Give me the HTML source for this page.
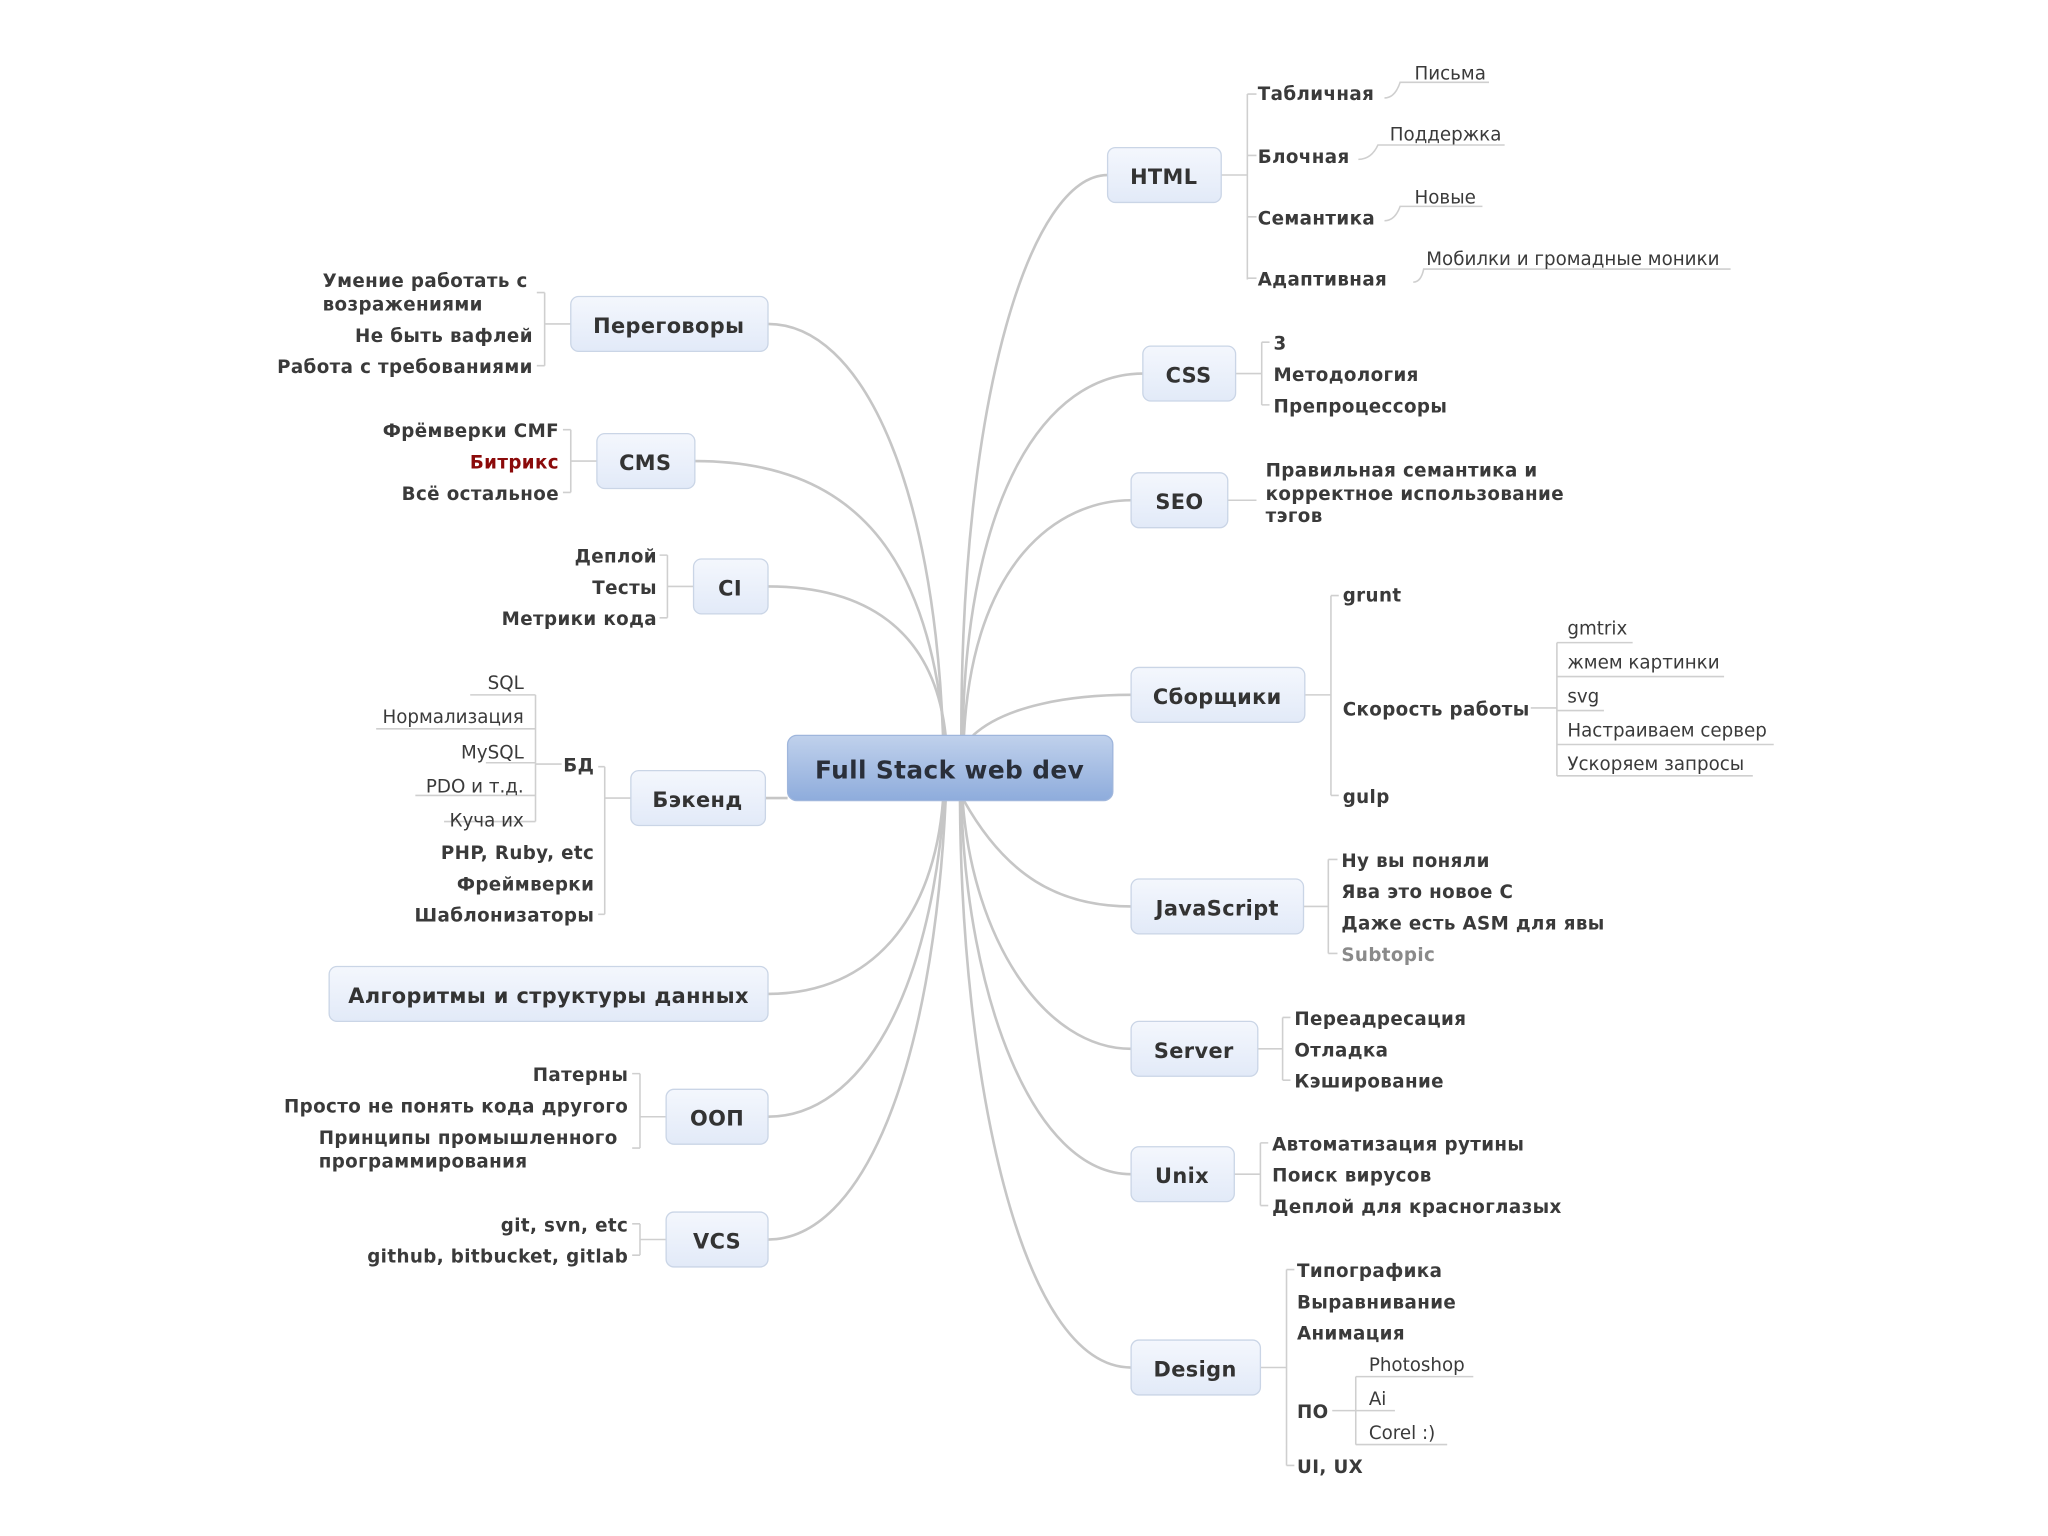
<!DOCTYPE html>
<html><head><meta charset="utf-8"><style>
html,body{margin:0;padding:0;background:#fff;}
svg{display:block;}
text{font-family:"DejaVu Sans","Liberation Sans",sans-serif;fill:#3a3a3a;dominant-baseline:central;}
.n{font-size:16px;font-weight:bold;text-anchor:middle;fill:#333;letter-spacing:0.3px;}
.c{font-size:14px;font-weight:bold;letter-spacing:0.3px;}
.g{font-size:14px;}
.e{text-anchor:end;}
.ln{fill:none;stroke:#c6c6c6;stroke-width:2;}
.sl{fill:none;stroke:#cfcfcf;stroke-width:1.2;}
.box{fill:url(#bg);stroke:#cad5e6;stroke-width:1;}
</style></head><body>
<svg width="2048" height="1536" viewBox="0 0 1568 1176" xmlns="http://www.w3.org/2000/svg">
<defs>
<linearGradient id="bg" x1="0" y1="0" x2="0" y2="1"><stop offset="0" stop-color="#f4f7fd"/><stop offset="1" stop-color="#e2eaf8"/></linearGradient>
<linearGradient id="cg" x1="0" y1="0" x2="0" y2="1"><stop offset="0" stop-color="#c0d1ec"/><stop offset="1" stop-color="#8eacdc"/></linearGradient>
</defs>
<g class="ln">
<path d="M736 563 C736 300 790 134 848 134"/>
<path d="M737 563 C740 380 800 286 875 286"/>
<path d="M738 563 C745 430 810 383 866 383"/>
<path d="M745 563 C770 540 820 532 866 532"/>
<path d="M738 613 C770 670 810 694 866 694"/>
<path d="M737 613 C745 720 800 803 866 803"/>
<path d="M736 613 C740 760 790 899 866 899"/>
<path d="M735 613 C736 820 780 1047 866 1047"/>
<path d="M722 563 C715 370 660 248 588 248"/>
<path d="M723 563 C710 420 650 353 532 353"/>
<path d="M724 563 C715 480 660 449 588 449"/>
<path d="M603 611 L586 611"/>
<path d="M722 613 C715 700 670 761 588 761"/>
<path d="M723 613 C712 760 660 855 588 855"/>
<path d="M724 613 C714 820 660 949 588 949"/>
</g>
<g class="sl">
<path d="M935 134 H955 M955 72 V214 M955 72 H962 M955 119 H962 M955 166 H962 M955 213 H962"/>
<path d="M1060 75 Q1068 75 1072 63 H1140 M1040 122 Q1050 122 1055 111 H1152 M1060 169 Q1068 169 1072 158 H1135 M1082 216 Q1088 216 1090 206 H1325"/>
<path d="M946 286 H966 M966 262 V310 M966 262 H972 M966 310 H972"/>
<path d="M940 383 H962"/>
<path d="M999 532 H1019 M1019 456 V609 M1019 456 H1025 M1019 609 H1025 M1172 542 H1192 M1192 492 V594 M1192 492 H1250 M1192 518 H1320 M1192 544 H1228 M1192 570 H1358 M1192 594 H1342"/>
<path d="M998 694 H1017 M1017 658 V730 M1017 658 H1024 M1017 730 H1024"/>
<path d="M963 803 H982 M982 779 V827 M982 779 H988 M982 827 H988"/>
<path d="M945 899 H965 M965 875 V923 M965 875 H971 M965 923 H971"/>
<path d="M965 1047 H985 M985 972 V1122 M985 972 H991 M985 1122 H991 M1020 1080 H1038 M1038 1054 V1106 M1038 1054 H1128 M1038 1080 H1068 M1038 1106 H1108"/>
<path d="M437 248 H417 M417 224 V280 M417 224 H411 M417 280 H411"/>
<path d="M457 353 H437 M437 329 V377 M437 329 H431 M437 377 H431"/>
<path d="M531 449 H511 M511 425 V473 M511 425 H505 M511 473 H505"/>
<path d="M483 611 H463 M463 587 V700 M463 587 H458 M463 700 H458 M430 585 H410 M410 532 V629 M410 532 H360 M410 558 H288 M410 584 H372 M410 609 H318 M410 629 H340"/>
<path d="M510 855 H490 M490 822 V879 M490 822 H484 M490 879 H484"/>
<path d="M510 949 H490 M490 937 V961 M490 937 H484 M490 961 H484"/>
</g>
<rect x="603" y="563" width="249" height="50" rx="7" fill="url(#cg)" stroke="#9fb6dc"/>
<g transform="translate(0,1.5)">
<text x="727" y="588" class="n" style="font-size:19px;fill:#2a2f3a">Full Stack web dev</text>
</g>
<rect class="box" x="848" y="113" width="87" height="42" rx="6"/>
<rect class="box" x="875" y="265" width="71" height="42" rx="6"/>
<rect class="box" x="866" y="362" width="74" height="42" rx="6"/>
<rect class="box" x="866" y="511" width="133" height="42" rx="6"/>
<rect class="box" x="866" y="673" width="132" height="42" rx="6"/>
<rect class="box" x="866" y="782" width="97" height="42" rx="6"/>
<rect class="box" x="866" y="878" width="79" height="42" rx="6"/>
<rect class="box" x="866" y="1026" width="99" height="42" rx="6"/>
<rect class="box" x="437" y="227" width="151" height="42" rx="6"/>
<rect class="box" x="457" y="332" width="75" height="42" rx="6"/>
<rect class="box" x="531" y="428" width="57" height="42" rx="6"/>
<rect class="box" x="483" y="590" width="103" height="42" rx="6"/>
<rect class="box" x="252" y="740" width="336" height="42" rx="6"/>
<rect class="box" x="510" y="834" width="78" height="42" rx="6"/>
<rect class="box" x="510" y="928" width="78" height="42" rx="6"/>
<g transform="translate(0,1.5)">
<text class="n" x="891" y="134">HTML</text>
<text class="n" x="910" y="286">CSS</text>
<text class="n" x="903" y="383">SEO</text>
<text class="n" x="932" y="532">Сборщики</text>
<text class="n" x="932" y="694">JavaScript</text>
<text class="n" x="914" y="803">Server</text>
<text class="n" x="905" y="899">Unix</text>
<text class="n" x="915" y="1047">Design</text>
<text class="n" x="512" y="248">Переговоры</text>
<text class="n" x="494" y="353">CMS</text>
<text class="n" x="559" y="449">CI</text>
<text class="n" x="534" y="611">Бэкенд</text>
<text class="n" x="420" y="761">Алгоритмы и структуры данных</text>
<text class="n" x="549" y="855">ООП</text>
<text class="n" x="549" y="949">VCS</text>
<g class="c">
<text x="963" y="71">Табличная</text><text x="963" y="119">Блочная</text><text x="963" y="166">Семантика</text><text x="963" y="213">Адаптивная</text>
<text x="975" y="262">3</text><text x="975" y="286">Методология</text><text x="975" y="310">Препроцессоры</text>
<text x="969" y="359">Правильная семантика и</text><text x="969" y="377">корректное использование</text><text x="969" y="394">тэгов</text>
<text x="1028" y="455">grunt</text><text x="1028" y="542">Скорость работы</text><text x="1028" y="609">gulp</text>
<text x="1027" y="658">Ну вы поняли</text><text x="1027" y="682">Ява это новое С</text><text x="1027" y="706">Даже есть ASM для явы</text><text x="1027" y="730" style="fill:#8a8a8a">Subtopic</text>
<text x="991" y="779">Переадресация</text><text x="991" y="803">Отладка</text><text x="991" y="827">Кэширование</text>
<text x="974" y="875">Автоматизация рутины</text><text x="974" y="899">Поиск вирусов</text><text x="974" y="923">Деплой для красноглазых</text>
<text x="993" y="972">Типографика</text><text x="993" y="996">Выравнивание</text><text x="993" y="1020">Анимация</text><text x="993" y="1080">ПО</text><text x="993" y="1122">UI, UX</text>
</g>
<g class="g">
<text x="1083" y="55">Письма</text><text x="1064" y="102">Поддержка</text><text x="1083" y="150">Новые</text><text x="1092" y="197">Мобилки и громадные моники</text>
<text x="1200" y="480">gmtrix</text><text x="1200" y="506">жмем картинки</text><text x="1200" y="532">svg</text><text x="1200" y="558">Настраиваем сервер</text><text x="1200" y="584">Ускоряем запросы</text>
<text x="1048" y="1044">Photoshop</text><text x="1048" y="1070">Ai</text><text x="1048" y="1096">Corel :)</text>
</g>
<g class="c">
<text x="247" y="214">Умение работать с</text><text x="247" y="232">возражениями</text>
<text class="e" x="408" y="256">Не быть вафлей</text><text class="e" x="408" y="280">Работа с требованиями</text>
<text class="e" x="428" y="329">Фрёмверки CMF</text><text class="e" x="428" y="353" style="fill:#8b0a0a">Битрикс</text><text class="e" x="428" y="377">Всё остальное</text>
<text class="e" x="503" y="425">Деплой</text><text class="e" x="503" y="449">Тесты</text><text class="e" x="503" y="473">Метрики кода</text>
<text class="e" x="455" y="585">БД</text><text class="e" x="455" y="652">PHP, Ruby, etc</text><text class="e" x="455" y="676">Фреймверки</text><text class="e" x="455" y="700">Шаблонизаторы</text>
<text class="e" x="481" y="822">Патерны</text><text class="e" x="481" y="846">Просто не понять кода другого</text>
<text x="244" y="870">Принципы промышленного</text><text x="244" y="888">программирования</text>
<text class="e" x="481" y="937">git, svn, etc</text><text class="e" x="481" y="961">github, bitbucket, gitlab</text>
</g>
<g class="g">
<text class="e" x="401" y="522">SQL</text><text class="e" x="401" y="548">Нормализация</text><text class="e" x="401" y="575">MySQL</text><text class="e" x="401" y="601">PDO и т.д.</text><text class="e" x="401" y="627">Куча их</text>
</g>
</g>
</svg>
</body></html>
